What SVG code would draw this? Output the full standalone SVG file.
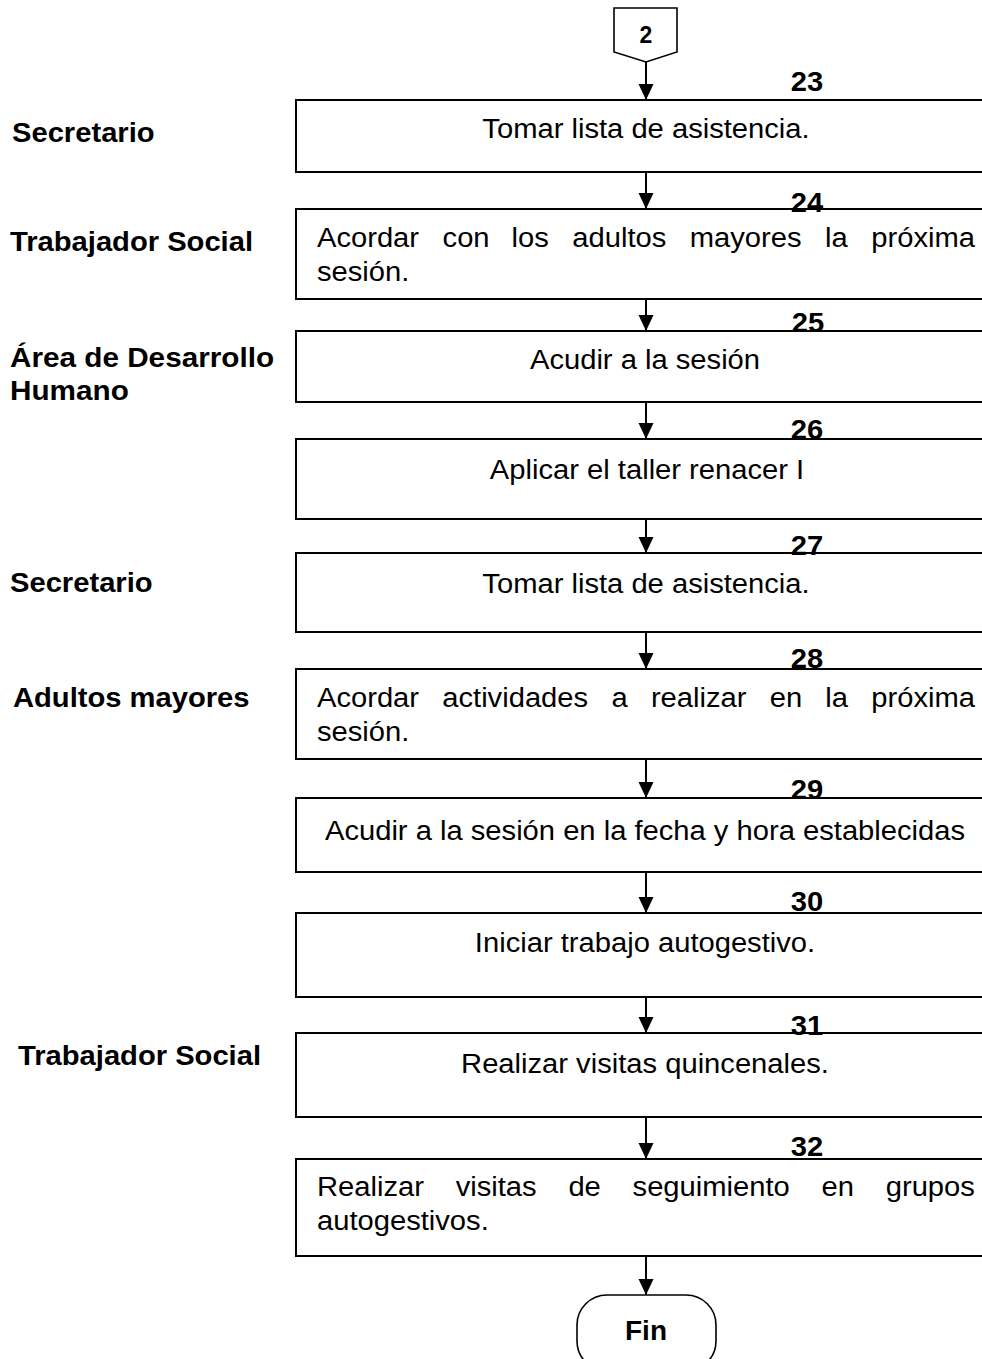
<svg xmlns="http://www.w3.org/2000/svg" width="982" height="1359" viewBox="0 0 982 1359">
<style>
.box{fill:#fff;stroke:#000;stroke-width:2}
.t{font-family:"Liberation Sans",Arial,sans-serif;font-size:27px;fill:#000}
.b{font-family:"Liberation Sans",Arial,sans-serif;font-size:27px;font-weight:bold;fill:#000}
.m{text-anchor:middle}
.conn{stroke:#000;stroke-width:2;fill:none}
.term{fill:#fff;stroke:#000;stroke-width:1.6}
</style>
<defs>
<marker id="ah" markerUnits="userSpaceOnUse" markerWidth="16" markerHeight="16" refX="16" refY="7.5" orient="auto">
<path d="M0,0 L16,7.5 L0,15 Z" fill="#000"/>
</marker>
</defs>
<g id="connectors">
<line class="conn" x1="646" y1="62" x2="646" y2="100" marker-end="url(#ah)"/>
<line class="conn" x1="646" y1="172" x2="646" y2="209" marker-end="url(#ah)"/>
<line class="conn" x1="646" y1="299" x2="646" y2="331" marker-end="url(#ah)"/>
<line class="conn" x1="646" y1="402" x2="646" y2="439" marker-end="url(#ah)"/>
<line class="conn" x1="646" y1="519" x2="646" y2="553" marker-end="url(#ah)"/>
<line class="conn" x1="646" y1="632" x2="646" y2="669" marker-end="url(#ah)"/>
<line class="conn" x1="646" y1="759" x2="646" y2="798" marker-end="url(#ah)"/>
<line class="conn" x1="646" y1="872" x2="646" y2="913" marker-end="url(#ah)"/>
<line class="conn" x1="646" y1="997" x2="646" y2="1033" marker-end="url(#ah)"/>
<line class="conn" x1="646" y1="1117" x2="646" y2="1159" marker-end="url(#ah)"/>
<line class="conn" x1="646" y1="1256" x2="646" y2="1295" marker-end="url(#ah)"/>
</g>
<g id="c2">
<path class="term" d="M614,8 H677 V52 L646,62 L614,52 Z"/>
<text class="b m" x="646" y="43" style="font-size:23px">2</text>
</g>
<g id="labels">
<text class="b" transform="translate(12,142) scale(1.08,1)">Secretario</text>
<text class="b" transform="translate(10,251) scale(1.08,1)">Trabajador Social</text>
<text class="b" transform="translate(10,367) scale(1.1,1)">Área de Desarrollo</text>
<text class="b" transform="translate(10,400) scale(1.1,1)">Humano</text>
<text class="b" transform="translate(10,592) scale(1.08,1)">Secretario</text>
<text class="b" transform="translate(13,707) scale(1.08,1)">Adultos mayores</text>
<text class="b" transform="translate(18,1065) scale(1.08,1)">Trabajador Social</text>
</g>
<g id="n23">
<rect class="box" x="296" y="100" width="702" height="72"/>
<text class="b m" transform="translate(807,91) scale(1.08,1)">23</text>
<text class="t m" transform="translate(646,138) scale(1.08,1)">Tomar lista de asistencia.</text>
</g>
<g id="n24">
<rect class="box" x="296" y="209" width="702" height="90"/>
<text class="b m" transform="translate(807,212) scale(1.08,1)">24</text>
<text class="t" transform="translate(0,247) scale(1.08,1)"><tspan x="293.5">Acordar</tspan><tspan x="409.8">con</tspan><tspan x="473.6">los</tspan><tspan x="529.9">adultos</tspan><tspan x="638.7">mayores</tspan><tspan x="764">la</tspan><tspan x="806.8">próxima</tspan></text>
<text class="t" transform="translate(0,281) scale(1.08,1)"><tspan x="293.5">sesión.</tspan></text>
</g>
<g id="n25">
<rect class="box" x="296" y="331" width="702" height="71"/>
<text class="b m" transform="translate(808,332) scale(1.08,1)">25</text>
<text class="t m" transform="translate(645,369) scale(1.08,1)">Acudir a la sesión</text>
</g>
<g id="n26">
<rect class="box" x="296" y="439" width="702" height="80"/>
<text class="b m" transform="translate(807,439) scale(1.08,1)">26</text>
<text class="t m" transform="translate(647,479) scale(1.08,1)">Aplicar el taller renacer I</text>
</g>
<g id="n27">
<rect class="box" x="296" y="553" width="702" height="79"/>
<text class="b m" transform="translate(807,555) scale(1.08,1)">27</text>
<text class="t m" transform="translate(646,593) scale(1.08,1)">Tomar lista de asistencia.</text>
</g>
<g id="n28">
<rect class="box" x="296" y="669" width="702" height="90"/>
<text class="b m" transform="translate(807,668) scale(1.08,1)">28</text>
<text class="t" transform="translate(0,707) scale(1.08,1)"><tspan x="293.5">Acordar</tspan><tspan x="409.5">actividades</tspan><tspan x="566.1">a</tspan><tspan x="602.7">realizar</tspan><tspan x="712.7">en</tspan><tspan x="764.2">la</tspan><tspan x="806.8">próxima</tspan></text>
<text class="t" transform="translate(0,741) scale(1.08,1)"><tspan x="293.5">sesión.</tspan></text>
</g>
<g id="n29">
<rect class="box" x="296" y="798" width="702" height="74"/>
<text class="b m" transform="translate(807,799) scale(1.08,1)">29</text>
<text class="t m" transform="translate(645,840) scale(1.08,1)">Acudir a la sesión en la fecha y hora establecidas</text>
</g>
<g id="n30">
<rect class="box" x="296" y="913" width="702" height="84"/>
<text class="b m" transform="translate(807,911) scale(1.08,1)">30</text>
<text class="t m" transform="translate(645,952) scale(1.08,1)">Iniciar trabajo autogestivo.</text>
</g>
<g id="n31">
<rect class="box" x="296" y="1033" width="702" height="84"/>
<text class="b m" transform="translate(807,1035) scale(1.08,1)">31</text>
<text class="t m" transform="translate(645,1073) scale(1.08,1)">Realizar visitas quincenales.</text>
</g>
<g id="n32">
<rect class="box" x="296" y="1159" width="702" height="97"/>
<text class="b m" transform="translate(807,1156) scale(1.08,1)">32</text>
<text class="t" transform="translate(0,1196) scale(1.08,1)"><tspan x="293.5">Realizar</tspan><tspan x="421.9">visitas</tspan><tspan x="526.3">de</tspan><tspan x="585.7">seguimiento</tspan><tspan x="760.7">en</tspan><tspan x="820.1">grupos</tspan></text>
<text class="t" transform="translate(0,1230) scale(1.08,1)"><tspan x="293.5">autogestivos.</tspan></text>
</g>
<g id="fin">
<rect class="term" x="577" y="1295" width="139" height="76" rx="30" ry="30"/>
<text class="b m" x="646" y="1340" style="font-size:28px">Fin</text>
</g>
</svg>
